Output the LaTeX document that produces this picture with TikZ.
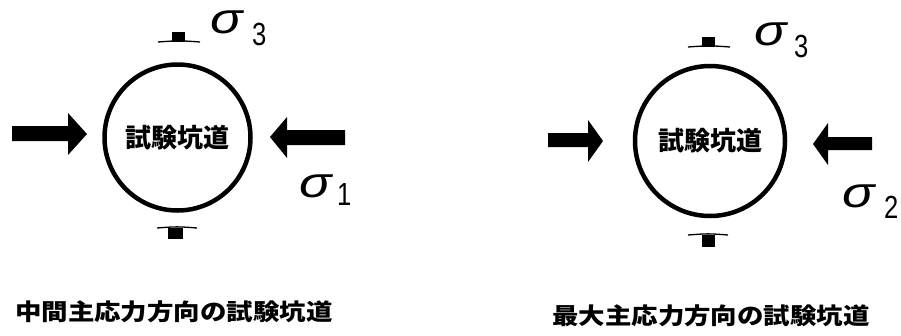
\documentclass[tikz,border=0pt]{standalone}
\usepackage{fontspec}
\newfontfamily\jp{Noto Sans CJK JP}
\newfontfamily\jpcap[FakeStretch=1.15]{Noto Sans CJK JP}
\newfontfamily\sig[FakeStretch=1.25]{Liberation Sans}
\newfontfamily\sigdig[FakeStretch=0.8]{Liberation Sans}
\begin{document}
\begin{tikzpicture}[x=1pt,y=-1pt,
  tunnel/.style={circle, draw, line width=4.5pt, inner sep=0pt, font=\jp\bfseries\fontsize{26}{26}\selectfont},
  force/.style={fill=black},
  tick/.style={line width=1.3pt},
  sigma/.style={font=\sig\itshape\fontsize{43}{43}\selectfont, inner sep=0pt, anchor=base west, text height=24pt, text depth=0pt},
  idx/.style={font=\sigdig\fontsize{32}{32}\selectfont, inner sep=0pt, anchor=base west, text height=23pt, text depth=0pt},
  caption/.style={font=\jpcap\bfseries\fontsize{23}{23}\selectfont, inner sep=0pt, anchor=west}]
\useasboundingbox[fill=white] (0,0) rectangle (901,335);

% left diagram
\node[tunnel, minimum size=146pt] (c1) at (177.5,137.5) {試験坑道};
\fill[force] (12,126) -- (68,126) -- (68,113) -- (87,134) -- (68,155) -- (68,141) -- (12,141) -- cycle;
\fill[force] (345,130) -- (287,130) -- (287,117) -- (270,137) -- (287,158) -- (287,145) -- (345,145) -- cycle;
\fill (172,32) rectangle (185,42);
\draw[tick] (158,42) .. controls (179,40.5) .. (200,42);
\draw[tick] (157,228) .. controls (177,226.5) .. (197,228);
\fill (168,228) rectangle (183,239);
\node[sigma] (s3a) at (210,33) {σ};
\node[idx] (i3a) at (252,45) {3};
\node[sigma] (s1) at (299,197) {σ};
\node[idx] (i1) at (337,205) {1};
\node[caption] (cap1) at (15,312) {中間主応力方向の試験坑道};

% right diagram
\node[tunnel, minimum size=150pt] (c2) at (710,141) {試験坑道};
\fill[force] (548,133) -- (588,133) -- (588,120) -- (603,141) -- (588,162) -- (588,147) -- (548,147) -- cycle;
\fill[force] (872,137) -- (828,137) -- (828,123) -- (813,144) -- (828,165) -- (828,150) -- (872,150) -- cycle;
\fill (702,37) rectangle (715,47);
\draw[tick] (688,47) .. controls (709,45.5) .. (730,47);
\draw[tick] (688,235) .. controls (708,233.5) .. (728,235);
\fill (702,235) rectangle (715,247);
\node[sigma] (s3b) at (754,45) {σ};
\node[idx] (i3b) at (794,57) {3};
\node[sigma] (s2) at (842,207) {σ};
\node[idx] (i2) at (884,218) {2};
\node[caption] (cap2) at (552,316) {最大主応力方向の試験坑道};
\end{tikzpicture}
\end{document}
